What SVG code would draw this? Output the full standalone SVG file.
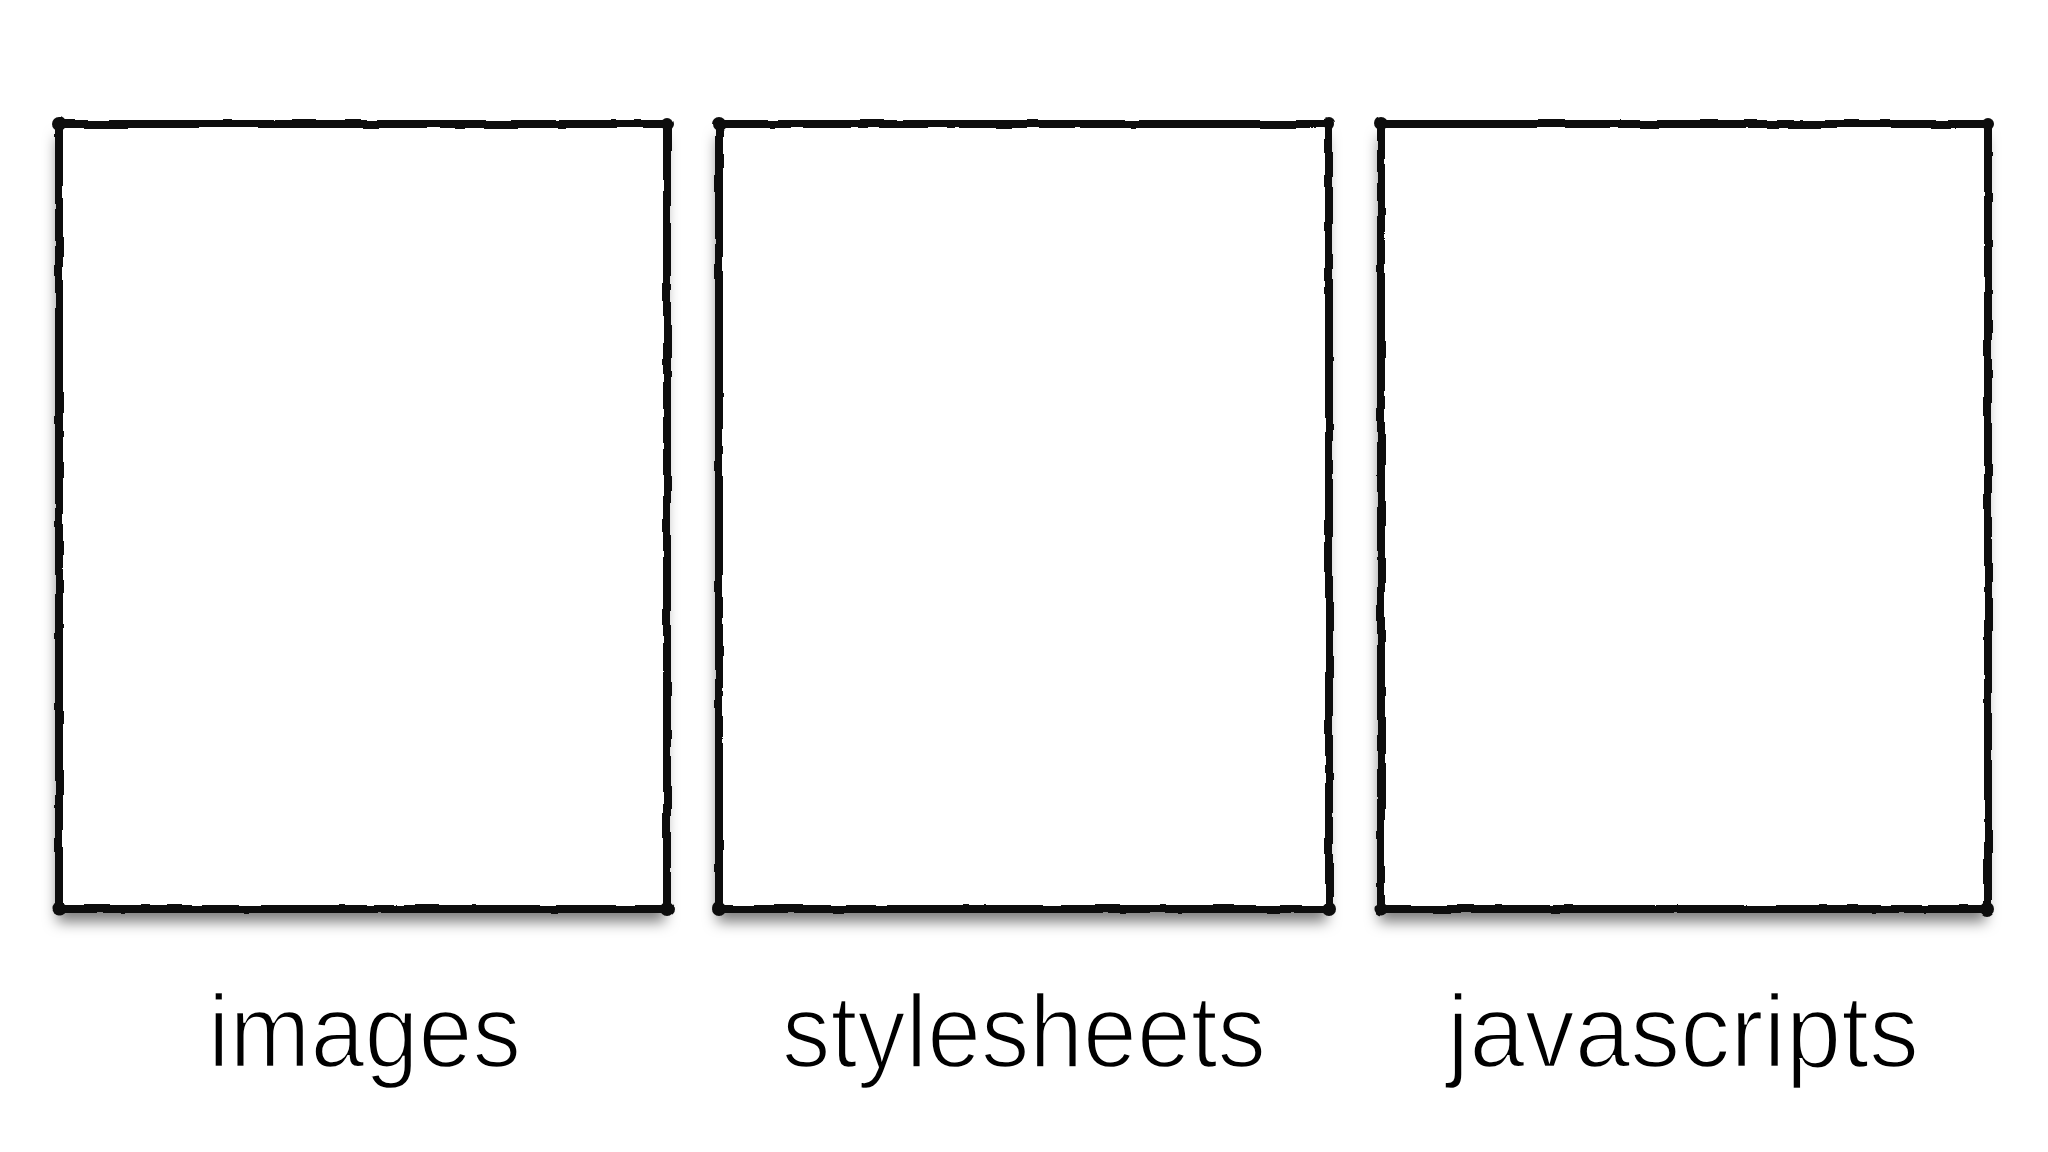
<svg xmlns="http://www.w3.org/2000/svg" width="2048" height="1152" viewBox="0 0 2048 1152">
  <style>
    .paper { fill: #ffffff; }
    .frame { fill: none; stroke: #0a0a0a; stroke-width: 8; stroke-linejoin: round; stroke-linecap: round; }
    .dot { fill: #0a0a0a; }
    .label { font-family: "Liberation Sans", Arial, sans-serif; font-size: 104px; fill: #000000; stroke: #ffffff; stroke-width: 2.5px; }
  </style>
  <defs>
    <filter id="shadow" x="-10%" y="-10%" width="120%" height="125%">
      <feDropShadow dx="-2" dy="13" stdDeviation="7" flood-color="#000000" flood-opacity="0.5"/>
    </filter>
    <filter id="rough" x="-5%" y="-5%" width="110%" height="110%">
      <feTurbulence type="fractalNoise" baseFrequency="0.035" numOctaves="2" seed="3" result="noise"/>
      <feDisplacementMap in="SourceGraphic" in2="noise" scale="3.5" xChannelSelector="R" yChannelSelector="G"/>
    </filter>
  </defs>
  <rect width="2048" height="1152" fill="#ffffff"/>
  <g id="node-images">
    <rect class="paper" x="59" y="124" width="608" height="785" filter="url(#shadow)"/>
    <g filter="url(#rough)">
      <rect class="frame" x="59" y="124" width="608" height="785"/>
      <circle class="dot" cx="59" cy="124" r="7"/>
      <circle class="dot" cx="667" cy="124" r="6"/>
      <circle class="dot" cx="59" cy="909" r="6.5"/>
      <circle class="dot" cx="667" cy="909" r="7"/>
    </g>
    <text class="label" x="208" y="1067" textLength="313" lengthAdjust="spacingAndGlyphs">images</text>
  </g>
  <g id="node-stylesheets">
    <rect class="paper" x="719" y="124" width="610" height="785" filter="url(#shadow)"/>
    <g filter="url(#rough)">
      <rect class="frame" x="719" y="124" width="610" height="785"/>
      <circle class="dot" cx="719" cy="124" r="7"/>
      <circle class="dot" cx="1329" cy="124" r="6"/>
      <circle class="dot" cx="719" cy="909" r="7"/>
      <circle class="dot" cx="1329" cy="909" r="7"/>
    </g>
    <text class="label" x="782" y="1067" textLength="484" lengthAdjust="spacingAndGlyphs">stylesheets</text>
  </g>
  <g id="node-javascripts">
    <rect class="paper" x="1381" y="124" width="607" height="785" filter="url(#shadow)"/>
    <g filter="url(#rough)">
      <rect class="frame" x="1381" y="124" width="607" height="785"/>
      <circle class="dot" cx="1381" cy="124" r="7"/>
      <circle class="dot" cx="1988" cy="124" r="6"/>
      <circle class="dot" cx="1381" cy="909" r="6.5"/>
      <circle class="dot" cx="1988" cy="909" r="7"/>
    </g>
    <text class="label" x="1447" y="1067" textLength="472" lengthAdjust="spacingAndGlyphs">javascripts</text>
  </g>
  <g id="connectors"/>
</svg>
